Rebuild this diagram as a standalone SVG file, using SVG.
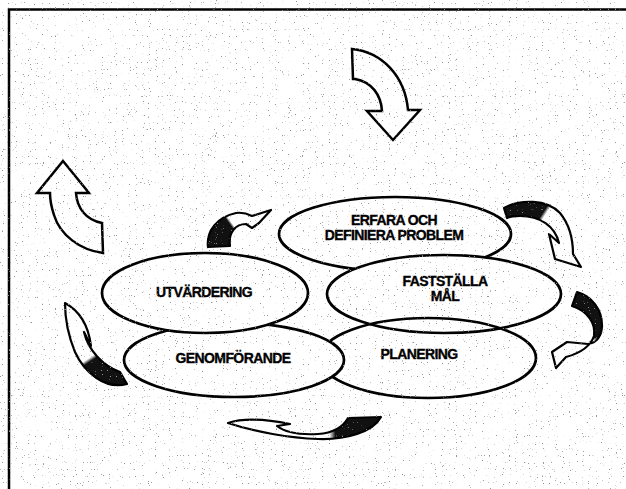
<svg xmlns="http://www.w3.org/2000/svg" width="626" height="489" viewBox="0 0 626 489">
<style>
.frame{stroke:#000;stroke-width:2.5;fill:none}
.node{fill:#fff;stroke:#000;stroke-width:2.7}
.node-open{fill:none;stroke:#000;stroke-width:2.7}
.lbl{font-family:"Liberation Sans",Arial,sans-serif;font-weight:bold;font-size:14px;text-anchor:middle;fill:#000;stroke:#000;stroke-width:0.35;letter-spacing:-0.6px}
.big{fill:#fff;stroke:#000;stroke-width:2.5;stroke-linejoin:miter}
.small{stroke:#000;stroke-width:2.2;stroke-linejoin:round}
</style>
<defs>
<filter id="speckle" x="0" y="0" width="100%" height="100%">
<feTurbulence type="fractalNoise" baseFrequency="0.85" numOctaves="1" seed="7"/>
<feColorMatrix type="matrix" values="0 0 0 0 0.3  0 0 0 0 0.3  0 0 0 0 0.3  16 0 0 0 -10.9"/>
</filter>
<linearGradient id="gA" gradientUnits="userSpaceOnUse" x1="212" y1="248" x2="262" y2="212">
<stop offset="0" stop-color="#111"/><stop offset="0.46" stop-color="#111"/><stop offset="0.5" stop-color="#fff"/><stop offset="1" stop-color="#fff"/>
</linearGradient>
<linearGradient id="gB" gradientUnits="userSpaceOnUse" x1="505" y1="210" x2="575" y2="255">
<stop offset="0" stop-color="#111"/><stop offset="0.4" stop-color="#111"/><stop offset="0.44" stop-color="#fff"/><stop offset="1" stop-color="#fff"/>
</linearGradient>
<linearGradient id="gC" gradientUnits="userSpaceOnUse" x1="585" y1="293" x2="570" y2="355">
<stop offset="0" stop-color="#111"/><stop offset="0.64" stop-color="#111"/><stop offset="0.69" stop-color="#fff"/><stop offset="1" stop-color="#fff"/>
</linearGradient>
<linearGradient id="gD" gradientUnits="userSpaceOnUse" x1="380" y1="420" x2="230" y2="425">
<stop offset="0" stop-color="#111"/><stop offset="0.3" stop-color="#111"/><stop offset="0.34" stop-color="#fff"/><stop offset="1" stop-color="#fff"/>
</linearGradient>
<linearGradient id="gE" gradientUnits="userSpaceOnUse" x1="120" y1="385" x2="70" y2="310">
<stop offset="0" stop-color="#111"/><stop offset="0.4" stop-color="#111"/><stop offset="0.44" stop-color="#fff"/><stop offset="1" stop-color="#fff"/>
</linearGradient>
</defs>

<rect x="0" y="0" width="626" height="489" fill="#fff"/>

<g id="frame">
<path class="frame" d="M9,489 V9.5 H626"/>
</g>

<g id="arrow-in">
<path class="big" d="M352,49 C382,52 405,76 408,110 L420,110 L393,140 L367,111 L382,111 C381,95 372,82 355,79 L353,79 Z"/>
</g>
<g id="arrow-out">
<path class="big" d="M63,161 L89,193 L76,193 C77,208 86,220 102,223 L103,253 C80,250 60,235 54,215 C51,206 50,199 50,193 L37,193 Z"/>
</g>

<g id="node-erfara">
<ellipse class="node" cx="395" cy="234" rx="116" ry="37"/>
<text class="lbl" x="394" y="225">ERFARA OCH</text>
<text class="lbl" x="394" y="240">DEFINIERA PROBLEM</text>
</g>
<g id="node-faststalla">
<ellipse class="node" cx="444" cy="294" rx="117" ry="39"/>
<text class="lbl" x="445" y="286">FASTSTÄLLA</text>
<text class="lbl" x="445" y="301">MÅL</text>
</g>
<g id="node-planering">
<ellipse class="node-open" cx="428" cy="358" rx="108" ry="40"/>
<text class="lbl" x="419" y="359">PLANERING</text>
</g>
<g id="node-genomforande">
<ellipse class="node" cx="234" cy="360" rx="110" ry="37"/>
<text class="lbl" x="233" y="363">GENOMFÖRANDE</text>
</g>
<g id="node-utvardering">
<ellipse class="node" cx="205" cy="293" rx="103" ry="40"/>
<text class="lbl" x="204" y="297">UTVÄRDERING</text>
</g>

<g id="connectors">
<path class="small" fill="url(#gA)" d="M208,247 C206,230 218,217 236,213 C243,212 248,214 252,216 L271,210 L259,223 L252,228 L246,224 C236,224 228,232 230,246 Z"/>
<path class="small" fill="url(#gB)" d="M504,208 C520,199 547,199 560,213 C569,224 573,240 573,254 L581,267 L555,259 L549,234 L559,243 C555,226 540,216 520,216 C514,216 509,217 507,218 Z"/>
<path class="small" fill="url(#gC)" d="M577,292 C592,296 602,310 602,325 C602,337 596,343 588,344 L567,342 L552,352 L556,368 L566,357 C577,354 590,348 594,336 C596,324 588,311 572,306 Z"/>
<path class="small" fill="url(#gD)" d="M348,418 L381,417 C373,432 346,440 318,439 C290,438 255,432 228,423 C240,419 260,418 290,424 L277,426 C286,433 300,435 318,434 C333,433 343,427 348,418 Z"/>
<path class="small" fill="url(#gE)" d="M65,303 C78,310 88,322 91,346 L84,332 C88,350 103,366 120,372 L127,384 C105,390 84,372 75,352 C68,335 65,318 65,303 Z"/>
</g>

<rect x="0" y="0" width="626" height="489" filter="url(#speckle)" pointer-events="none"/>
</svg>
